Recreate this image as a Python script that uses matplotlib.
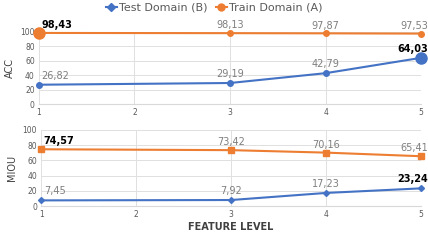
import matplotlib.pyplot as plt

levels = [1, 3, 4, 5]
acc_test = [26.82, 29.19, 42.79, 64.03]
acc_train = [98.43, 98.13, 97.87, 97.53]
miou_test = [7.45, 7.92, 17.23, 23.24]
miou_train = [74.57, 73.42, 70.16, 65.41]

blue = '#4472C4'
orange = '#ED7D31'
gray = '#7F7F7F'

fig = plt.figure(figsize=(4.28, 2.41), dpi=100)
ax1 = fig.add_axes([0.091, 0.568, 0.893, 0.3])
ax2 = fig.add_axes([0.096, 0.145, 0.888, 0.316])


def style(ax, ylabel):
    ax.set_xlim(1, 5)
    ax.set_ylim(0, 100)
    ax.set_xticks([1, 2, 3, 4, 5])
    ax.set_yticks(range(0, 101, 20))
    ax.grid(True, color='#E0E0E0', linewidth=0.7)
    ax.set_axisbelow(True)
    for s in ['top', 'right', 'left']:
        ax.spines[s].set_visible(False)
    ax.spines['bottom'].set_color('#D9D9D9')
    ax.tick_params(length=0, labelsize=5.5, colors='#595959', pad=3)
    ax.set_ylabel(ylabel, fontsize=7, color='#404040', labelpad=4)


def labels(ax, ys, bold_idx, dy):
    for i, (x, y) in enumerate(zip(levels, ys)):
        txt = f'{y:.2f}'.replace('.', ',')
        if x == 1:
            ha, dx = 'left', 2
        elif x == 5:
            ha, dx = 'right', 5
        else:
            ha, dx = 'center', 0
        if i == bold_idx:
            ax.annotate(txt, (x, y), xytext=(dx, dy), textcoords='offset points',
                        fontsize=7, fontweight='bold', color='black', ha=ha, va='bottom')
        else:
            ax.annotate(txt, (x, y), xytext=(dx, dy), textcoords='offset points',
                        fontsize=7, color=gray, ha=ha, va='bottom')


# top panel
ax1.plot(levels, acc_test, color=blue, lw=1.5, marker='o', ms=4, clip_on=False, zorder=3)
ax1.plot(levels, acc_train, color=orange, lw=1.5, marker='o', ms=4, clip_on=False, zorder=3)
ax1.plot([5], [acc_test[3]], 'o', color=blue, ms=8, clip_on=False, zorder=4)
ax1.plot([1], [acc_train[0]], 'o', color=orange, ms=8, clip_on=False, zorder=4)
style(ax1, 'ACC')
labels(ax1, acc_test, 3, 3)
labels(ax1, acc_train, 0, 2)

# bottom panel
ax2.plot(levels, miou_test, color=blue, lw=1.5, marker='D', ms=3, clip_on=False, zorder=3)
ax2.plot(levels, miou_train, color=orange, lw=1.5, marker='s', ms=4.5, clip_on=False, zorder=3)
style(ax2, 'MIOU')
ax2.set_xlabel('FEATURE LEVEL', fontsize=7, fontweight='bold', color='#404040', labelpad=2)
labels(ax2, miou_test, 3, 3)
labels(ax2, miou_train, 0, 2)

# legend
h1, = ax1.plot([], [], color=blue, lw=1.5, marker='D', ms=4, label='Test Domain (B)')
h2, = ax1.plot([], [], color=orange, lw=1.5, marker='o', ms=5, label='Train Domain (A)')
fig.legend(handles=[h1, h2], loc='upper center', bbox_to_anchor=(0.5, 1.03), ncol=2,
           frameon=False, fontsize=8, handlelength=1.0, handletextpad=0.15,
           columnspacing=0.8, labelcolor='#595959')

fig.savefig('out.png', dpi=100)
